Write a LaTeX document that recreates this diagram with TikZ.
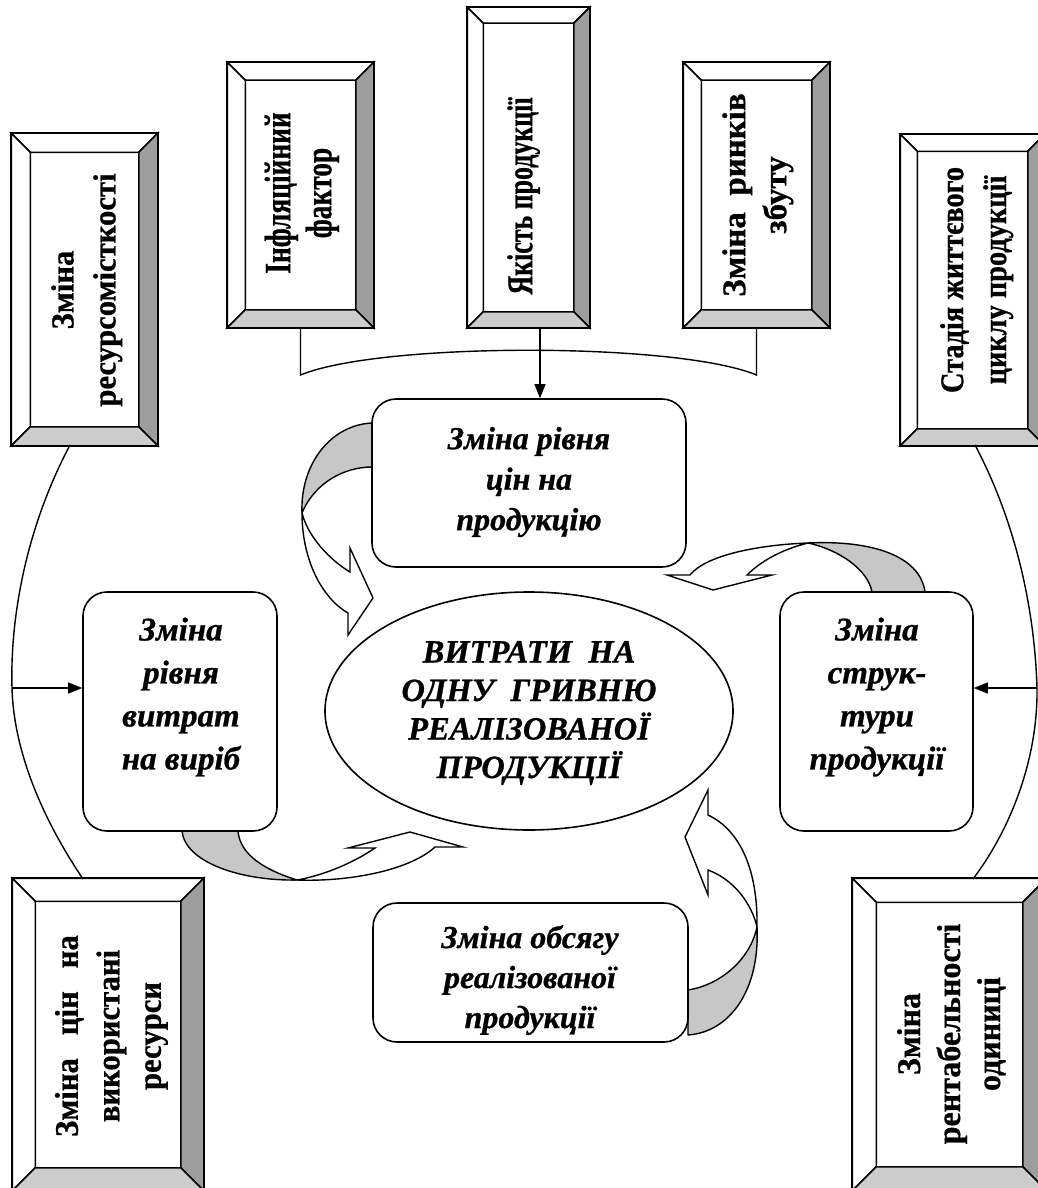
\documentclass[tikz,border=0pt]{standalone}
\usepackage{fontspec}
\setmainfont{Liberation Serif}[BoldFeatures={FakeBold=0.8},BoldItalicFeatures={FakeBold=0.8}]
\usetikzlibrary{shapes.geometric,arrows.meta,calc}
\definecolor{bevdark}{gray}{0.62}
\definecolor{bevlight}{gray}{0.80}
\definecolor{twist}{gray}{0.78}
\tikzset{
  bevbox/.style={draw, line width=1.5pt, fill=white, inner sep=0pt},
  vtext/.style={rotate=90, inner sep=0pt},
  rbox/.style={draw, line width=1.6pt, fill=white, rounded corners=24pt, inner sep=0pt},
  itext/.style={align=center, inner sep=0pt, font=\fontsize{33}{43}\selectfont\bfseries\itshape},
  conn/.style={line width=1.4pt},
  arr/.style={conn, -{Triangle[width=11pt,length=14pt]}},
  twistfill/.style={fill=twist, draw=black, line width=1.4pt, line join=round},
  bandfill/.style={fill=white, draw=black, line width=1.4pt, line join=miter},
}
% #1 length scale, #2 font size, #3 line distance, #4 lines
\newcommand\vlines[4]{\scalebox{#1}[1]{\fontsize{#2}{#3}\selectfont\bfseries\begin{tabular}{@{}c@{}}#4\end{tabular}}}
\newcommand\bevelize[2]{%
  \filldraw[fill=white,line width=1.5pt] (#1.north west) -- (#1.north east) -- ($(#1.north east)+(-#2,#2)$) -- ($(#1.north west)+(#2,#2)$) -- cycle;
  \filldraw[fill=white,line width=1.5pt] (#1.north west) -- ($(#1.north west)+(#2,#2)$) -- ($(#1.south west)+(#2,-#2)$) -- (#1.south west) -- cycle;
  \filldraw[fill=bevdark,line width=1.5pt] (#1.north east) -- (#1.south east) -- ($(#1.south east)+(-#2,-#2)$) -- ($(#1.north east)+(-#2,#2)$) -- cycle;
  \filldraw[fill=bevlight,line width=1.5pt] (#1.south west) -- (#1.south east) -- ($(#1.south east)+(-#2,-#2)$) -- ($(#1.south west)+(#2,-#2)$) -- cycle;
  \draw[line width=1.6pt] (#1.north west) rectangle (#1.south east);
}
\begin{document}
\begin{tikzpicture}[x=1pt,y=-1pt]
\clip (0,0) rectangle (1038,1188);
\fill[white] (0,0) rectangle (1038,1188);

% ---- curved block arrows (drawn first) ----
% top-left
\filldraw[twistfill] (372,423) .. controls (330,425) and (300,465) .. (302,513) .. controls (315,482) and (345,467) .. (372,467) -- cycle;
\filldraw[bandfill] (302,513) .. controls (302,560) and (322,598) .. (348,613) -- (348,635) -- (373,598) -- (350,548) -- (350,572) .. controls (330,560) and (308,537) .. (302,513) -- cycle;
% bottom-left
\filldraw[twistfill] (182,831) .. controls (185,862) and (240,881) .. (297,880) .. controls (265,870) and (240,855) .. (238,831) -- cycle;
\filldraw[bandfill] (297,880) .. controls (350,882) and (410,870) .. (435,847) -- (463,847) -- (410,832) -- (348,848) -- (375,848) .. controls (350,865) and (320,876) .. (297,880) -- cycle;
% top-right
\filldraw[twistfill] (925,592) .. controls (920,555) and (870,540) .. (808,543) .. controls (840,550) and (868,570) .. (872,592) -- cycle;
\filldraw[bandfill] (808,543) .. controls (755,545) and (705,556) .. (690,575) -- (667,575) -- (713,590) -- (772,575) -- (747,575) .. controls (760,562) and (780,550) .. (808,543) -- cycle;
% bottom-right
\filldraw[twistfill] (757,927) .. controls (760,990) and (730,1032) .. (688,1035) -- (688,990) .. controls (720,985) and (750,960) .. (757,927) -- cycle;
\filldraw[bandfill] (757,927) .. controls (758,870) and (740,830) .. (708,815) -- (708,790) -- (685,837) -- (708,895) -- (708,870) .. controls (735,880) and (752,905) .. (757,927) -- cycle;

% ---- bevelled factor boxes ----
\node[bevbox, minimum width=145pt, minimum height=311pt] (b1) at (84.5,289.5) {};
\bevelize{b1}{19}
\node[vtext] (b1t) at (86,290) {\vlines{0.96}{32}{42}{Зміна\\ресурсомісткості}};

\node[bevbox, minimum width=145pt, minimum height=264pt] (b2) at (300.5,195) {};
\bevelize{b2}{18}
\node[vtext] (b2t) at (302.5,193) {\vlines{0.74}{37}{41}{Інфляційний\\фактор}};

\node[bevbox, minimum width=121pt, minimum height=319pt] (b3) at (528.5,167.5) {};
\bevelize{b3}{16}
\node[vtext] (b3t) at (524,196) {\vlines{0.72}{36}{41}{Якість продукції}};

\node[bevbox, minimum width=145pt, minimum height=264pt] (b4) at (756.5,195) {};
\bevelize{b4}{18}
\node[vtext] (b4t) at (757.5,195) {\vlines{1}{33}{41}{Зміна\ \ ринків\\збуту}};

\node[bevbox, minimum width=143pt, minimum height=310pt] (b5) at (972.5,290) {};
\bevelize{b5}{17}
\node[vtext] (b5t) at (976,280) {\vlines{0.86}{33}{43}{Стадія життєвого\\циклу продукції}};

\node[bevbox, minimum width=190pt, minimum height=311pt] (b6) at (108,1034.5) {};
\bevelize{b6}{23}
\node[vtext] (b6t) at (111,1036) {\vlines{0.93}{33}{41.5}{Зміна\ \ \ цін\ \ \ на\\використані\\ресурси}};

\node[bevbox, minimum width=193pt, minimum height=311pt] (b7) at (949.5,1034.5) {};
\bevelize{b7}{24}
\node[vtext] (b7t) at (952,1034) {\vlines{0.97}{33}{40}{Зміна\\рентабельності\\одиниці}};

% ---- rounded boxes and ellipse ----
\node[rbox, minimum width=314pt, minimum height=168pt] (r1) at (529,483) {};
\node[itext, font=\fontsize{32}{40.5}\selectfont\bfseries\itshape] (r1t) at (529,482) {Зміна рівня\\цін на\\продукцію};

\node[rbox, minimum width=194pt, minimum height=239pt] (r2) at (180,711.5) {};
\node[itext] (r2t) at (181,697) {Зміна\\рівня\\витрат\\на виріб};

\node[rbox, minimum width=193pt, minimum height=239pt] (r3) at (876.5,711.5) {};
\node[itext] (r3t) at (877,697) {Зміна\\струк-\\тури\\продукції};

\node[rbox, minimum width=315pt, minimum height=139pt] (r4) at (530.5,972.5) {};
\node[itext, font=\fontsize{32}{40}\selectfont\bfseries\itshape] (r4t) at (530,980) {Зміна обсягу\\реалізованої\\продукції};

\node[draw, ellipse, line width=1.6pt, fill=white, minimum width=408pt, minimum height=238pt, inner sep=0pt] (e) at (529,711) {};
\node[align=center, inner sep=0pt, font=\fontsize{32.5}{38.5}\selectfont\bfseries\itshape] (et) at (529,713) {ВИТРАТИ\ \ НА\\ОДНУ\ \ ГРИВНЮ\\РЕАЛІЗОВАНОЇ\\ПРОДУКЦІЇ};

% ---- connectors ----
\coordinate (tl) at (300.5,375);
\coordinate (tr) at (756.5,375);
\draw[conn] (b2.south) -- (tl) .. controls (380,342) and (677,342) .. (tr) -- (b4.south);
\coordinate (ta) at (540,327);
\draw[arr] (ta) -- (ta |- r1.north);

\coordinate (b1o) at (70,445);
\coordinate (b6o) at (83,879);
\coordinate (lj) at (12,688);
\draw[conn] (b1o) .. controls (25,530) and (10,620) .. (lj) .. controls (14,760) and (50,830) .. (b6o);
\draw[arr] (lj) -- (lj -| r2.west);

\coordinate (b5o) at (975,445);
\coordinate (b7o) at (973,879);
\coordinate (rj) at (1037,688);
\draw[conn] (b5o) .. controls (1020,530) and (1035,620) .. (rj) .. controls (1038,760) and (1010,830) .. (b7o);
\draw[arr] (rj) -- (rj -| r3.east);
\end{tikzpicture}
\end{document}
